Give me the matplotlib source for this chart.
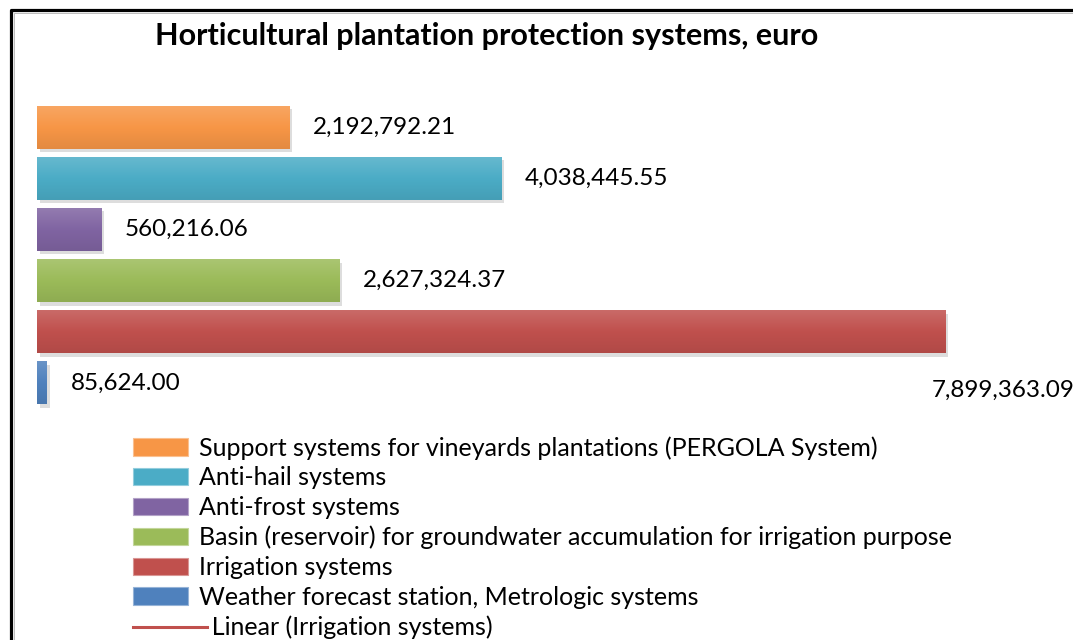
import numpy as np
import matplotlib
matplotlib.use("Agg")
import matplotlib.pyplot as plt
import matplotlib.patheffects as pe
from matplotlib.colors import LinearSegmentedColormap, to_rgb
from matplotlib.patches import Patch
from matplotlib.lines import Line2D
from matplotlib.legend_handler import HandlerLine2D

# series, top to bottom as they appear in the chart and legend
systems = [
    "Support systems for vineyards plantations (PERGOLA System)",
    "Anti-hail systems",
    "Anti-frost systems",
    "Basin (reservoir) for groundwater accumulation for irrigation purpose",
    "Irrigation systems",
    "Weather forecast station, Metrologic systems",
]
values = [2192792.21, 4038445.55, 560216.06, 2627324.37, 7899363.09, 85624.00]
colors = ["#F79646", "#4BACC6", "#8064A2", "#9BBB59", "#C0504D", "#4F81BD"]
trend_label = "Linear (Irrigation systems)"

plt.rcParams["font.family"] = ["Lato", "DejaVu Sans"]

W, H = 1073, 640
fig = plt.figure(figsize=(W / 100, H / 100), dpi=100)
ax = fig.add_axes([37 / W, 1 - 408.5 / H, 1035 / W, 307 / H])


def mix(c, other, t):
    c, o = np.array(to_rgb(c)), np.array(to_rgb(other))
    return tuple(c * (1 - t) + o * t)


ypos = np.arange(len(values))
bh = 0.84
bars = ax.barh(ypos, values, height=bh, color=colors, zorder=2)
for b, c in zip(bars, colors):
    b.set_path_effects([pe.SimplePatchShadow(offset=(2, -2.5), alpha=0.22, shadow_rgbFace="#666666"),
                        pe.Normal()])
    cmap = LinearSegmentedColormap.from_list("g", [mix(c, "white", 0.15), c, mix(c, "black", 0.08)])
    x0, y0 = b.get_x(), b.get_y()
    im = ax.imshow(np.linspace(0, 1, 50).reshape(-1, 1), cmap=cmap, aspect="auto",
                   extent=(x0, x0 + b.get_width(), y0, y0 + b.get_height()),
                   origin="lower", zorder=3)
    im.set_clip_path(b)

# value labels
for i, v in enumerate(values):
    txt = f"{v:,.2f}"
    off = (-10, -42) if i == 4 else (17, 0)
    ax.annotate(txt, (v, i), xytext=off, textcoords="offset points",
                ha="left", va="center", fontsize=17.5, color="black", annotation_clip=False)

ax.set_xlim(0, 9.0e6)
ax.set_ylim(len(values) - 0.5, -0.5)
ax.axis("off")

fig.text(487 / W, 1 - 36 / H, "Horticultural plantation protection systems, euro",
         ha="center", va="center", fontsize=22, fontweight="bold", color="black")


class WideLine(HandlerLine2D):
    def get_xdata(self, legend, xdescent, ydescent, width, height, fontsize):
        x = np.array([-xdescent, -xdescent + width + 0.75 * fontsize])
        return x, x


handles = [Patch(facecolor=c, edgecolor=mix(c, "white", 0.4), linewidth=0.8) for c in colors]
trend = Line2D([], [], color="#C0504D", lw=2.2)
handles.append(trend)
labels = systems + ["  " + trend_label]
leg = fig.legend(handles, labels, loc="upper left", bbox_to_anchor=(123 / W, 1 - 426 / H),
                 frameon=False, fontsize=18, handlelength=2.2, handleheight=0.7,
                 handletextpad=0.45, labelspacing=0.27, borderaxespad=0,
                 handler_map={trend: WideLine()})

# outer frame of the chart area (left and top edges only are in view)
fig.add_artist(Line2D([10.5 / W, 10.5 / W, 1.0], [0.0, 1 - 9.5 / H, 1 - 9.5 / H],
                      transform=fig.transFigure, color="black", lw=2.3))
fig.add_artist(Line2D([13.5 / W, 13.5 / W, 1.0], [0.0, 1 - 12.5 / H, 1 - 12.5 / H],
                      transform=fig.transFigure, color="#BBBBBB", lw=0.7))

fig.savefig("out.png", dpi=100)
